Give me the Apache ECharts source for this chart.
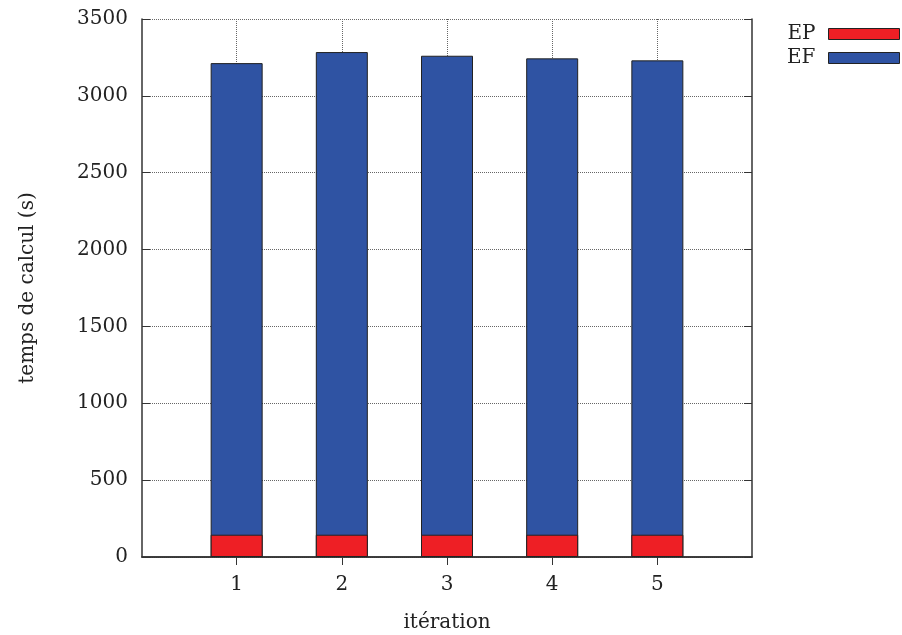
<!DOCTYPE html>
<html>
<head>
<meta charset="utf-8">
<script src="https://cdn.jsdelivr.net/npm/echarts@6/dist/echarts.min.js"></script>
<style>
  html, body { margin: 0; padding: 0; background: #fff; }
  #chart { width: 902px; height: 635px; }
</style>
</head>
<body>
<div id="chart"></div>
<script>
// itérations
const iterations = [1, 2, 3, 4, 5]
// temps EP (s)
const epValues = [145, 145, 145, 145, 145]
// temps EF (s)
const efValues = [3068, 3140, 3116, 3099, 3086]

const font = 'DejaVu Serif'
const frame = { show: true, lineStyle: { color: '#333', width: 1.5 } }
const grid = { type: 'dotted', color: '#666', width: 1 }

const chart = echarts.init(document.getElementById('chart'))
chart.setOption({
  animation: false,
  textStyle: { fontFamily: font },
  grid: { left: 142, right: 150, top: 19, bottom: 78, outerBoundsMode: 'none' },
  legend: {
    orient: 'vertical',
    right: 2,
    top: 24,
    padding: 0,
    align: 'right',
    itemWidth: 71,
    itemHeight: 11,
    itemGap: 4,
    textStyle: { fontFamily: font, fontSize: 20, color: '#222', padding: [0, 8, 0, 0] },
    data: [
      { name: 'EP', icon: 'rect', itemStyle: { borderColor: '#222', borderWidth: 1 } },
      { name: 'EF', icon: 'rect', itemStyle: { borderColor: '#222', borderWidth: 1 } }
    ]
  },
  xAxis: [
    {
      type: 'value',
      min: 0.1,
      max: 5.9,
      name: 'itération',
      nameLocation: 'middle',
      nameGap: 56,
      nameTextStyle: { fontFamily: font, fontSize: 20, color: '#222' },
      axisLine: frame,
      axisTick: { show: true, inside: true, length: 8, customValues: iterations, lineStyle: { color: '#333' } },
      axisLabel: { customValues: iterations, fontFamily: font, fontSize: 20, color: '#222', margin: 18 },
      splitLine: { show: true, lineStyle: grid }
    },
    {
      type: 'value',
      position: 'top',
      min: 0.1,
      max: 5.9,
      axisLine: frame,
      axisTick: { show: true, inside: true, length: 8, customValues: iterations, lineStyle: { color: '#333' } },
      axisLabel: { show: false },
      splitLine: { show: false }
    }
  ],
  yAxis: [
    {
      type: 'value',
      min: 0,
      max: 3500,
      interval: 500,
      name: 'temps de calcul (s)',
      nameLocation: 'middle',
      nameGap: 104,
      nameRotate: 90,
      nameTextStyle: { fontFamily: font, fontSize: 20, color: '#222' },
      axisLine: frame,
      axisTick: { show: true, inside: true, length: 8, lineStyle: { color: '#333' } },
      axisLabel: { fontFamily: font, fontSize: 20, color: '#222', margin: 14, formatter: v => String(v) },
      splitLine: { show: true, lineStyle: grid }
    },
    {
      type: 'value',
      position: 'right',
      min: 0,
      max: 3500,
      interval: 500,
      axisLine: frame,
      axisTick: { show: true, inside: true, length: 8, lineStyle: { color: '#333' } },
      axisLabel: { show: false },
      splitLine: { show: false }
    }
  ],
  series: [
    {
      // EF empilé au-dessus de EP : barre totale dessinée derrière
      name: 'EF',
      type: 'bar',
      barWidth: 52,
      barGap: '-100%',
      data: iterations.map((x, i) => [x, epValues[i] + efValues[i]]),
      itemStyle: { color: '#2f53a3', borderColor: '#222', borderWidth: 1 }
    },
    {
      name: 'EP',
      type: 'bar',
      barWidth: 52,
      barGap: '-100%',
      data: iterations.map((x, i) => [x, epValues[i]]),
      itemStyle: { color: '#ee1f25', borderColor: '#222', borderWidth: 1 }
    }
  ]
})
</script>
</body>
</html>
